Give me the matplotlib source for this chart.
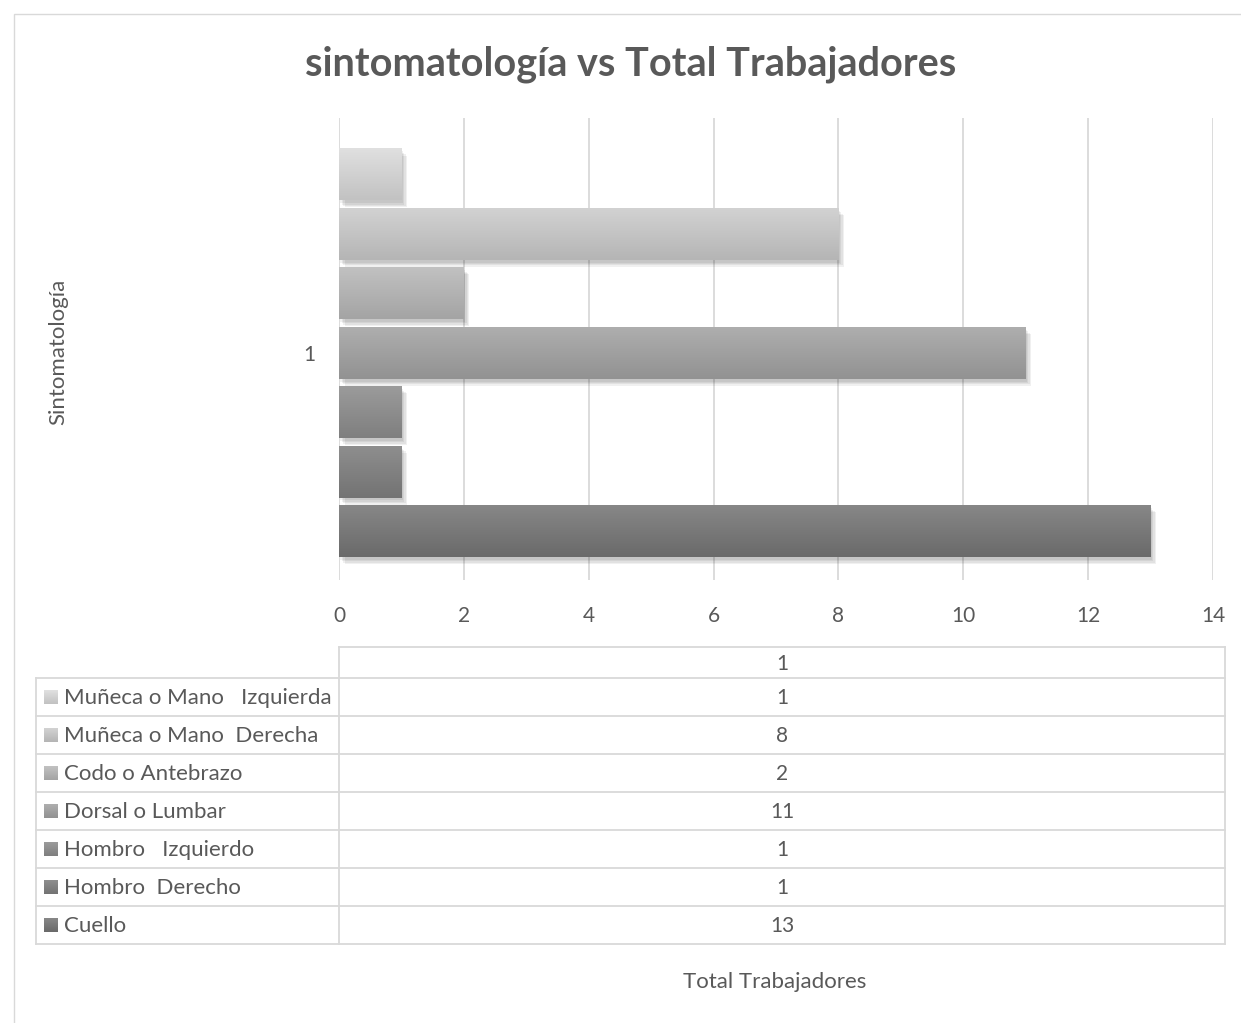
# sintomatologia vs total trabajadores - horizontal bars + data table
import numpy as np
import matplotlib
matplotlib.use("AGG")
import matplotlib.pyplot as plt
from matplotlib.patches import Rectangle
from matplotlib.lines import Line2D
import matplotlib.patheffects as pe

categorias = ['Cuello', 'Hombro  Derecho', 'Hombro   Izquierdo', 'Dorsal o Lumbar',
              'Codo o Antebrazo', 'Muñeca o Mano  Derecha', 'Muñeca o Mano   Izquierda']
valores = [13, 1, 1, 11, 2, 8, 1]
# gradient top / bottom colours per series
col_top = ['#878787', '#8e8e8e', '#9b9b9b', '#aeaeae', '#c1c1c1', '#d2d2d2', '#e0e0e0']
col_bot = ['#6a6a6a', '#737373', '#7f7f7f', '#929292', '#a4a4a4', '#b5b5b5', '#c2c2c2']
xticks = [0, 2, 4, 6, 8, 10, 12, 14]
grupo = '1'

txt = '#595959'
fs = 16
plt.rcParams['font.family'] = ['Lato', 'DejaVu Sans']

W, H = 1241, 1023
fig = plt.figure(figsize=(W / 100, H / 100), dpi=100)

# outer chart frame
fig.add_artist(Rectangle((14 / W, -0.1), 1.2, 1 - 14 / H + 0.1, transform=fig.transFigure,
                         fill=False, edgecolor='#d9d9d9', linewidth=1))

fig.text(631 / W, 1 - 64 / H, 'sintomatología vs Total Trabajadores', ha='center', va='center',
         fontsize=28.5, fontweight='bold', color=txt)

ax = fig.add_axes([339 / W, 1 - 580 / H, (1213 - 339) / W, (580 - 118) / H])
ypos = np.arange(len(valores))
bars = ax.barh(ypos, valores, height=0.87, color='none', edgecolor='none', zorder=3)
shadows = [pe.SimplePatchShadow(offset=(o, -o - 1), shadow_rgbFace='black', alpha=0.06)
           for o in (1, 2, 3, 4)]
for i, b in enumerate(bars):
    c0 = np.array(matplotlib.colors.to_rgb(col_top[i]))
    c1 = np.array(matplotlib.colors.to_rgb(col_bot[i]))
    t = np.linspace(0, 1, 64)[:, None]
    grad = (c0 * (1 - t) + c1 * t)[:, None, :]
    x0, y0, w, h = b.get_x(), b.get_y(), b.get_width(), b.get_height()
    # soft drop shadow
    sh = Rectangle((x0, y0), w, h, facecolor='none', edgecolor='none', zorder=2,
                   path_effects=shadows)
    ax.add_patch(sh)
    ax.imshow(grad, extent=[x0, x0 + w, y0, y0 + h], aspect='auto', zorder=3, origin='upper',
              interpolation='bilinear')
ax.set_xlim(0, 14)
ax.set_ylim(-0.82, 6.95)

ax.set_xticks(xticks)
ax.set_xticklabels([str(v) for v in xticks])
ax.set_yticks([3])
ax.set_yticklabels([grupo])
ax.tick_params(axis='x', length=0, pad=19, labelsize=15, labelcolor=txt)
ax.tick_params(axis='y', length=0, pad=17, labelsize=15, labelcolor=txt)
ax.grid(axis='x', color='#d9d9d9', linewidth=1.3, zorder=0)
ax.set_axisbelow(True)
for s in ax.spines.values():
    s.set_visible(False)
ax.set_facecolor('none')

fig.text(58 / W, 1 - 352 / H, 'Sintomatología', rotation=90, ha='center', va='center',
         fontsize=fs, color=txt)
fig.text(775 / W, 1 - 982 / H, 'Total Trabajadores', ha='center', va='center',
         fontsize=fs, color=txt)

# data table below the chart (pixel coordinates)
tab = fig.add_axes([0, 0, 1, 1])
tab.axis('off')
lc = '#d9d9d9'
xl, xm, xr = 36, 339, 1225
row_top = 647
head_h = 31
row_h = 38
rows = list(reversed(range(len(categorias))))
y_bot = row_top + head_h + row_h * len(rows)
tab.add_line(Line2D([xm, xr], [row_top, row_top], color=lc, lw=1.3))
tab.add_line(Line2D([xm, xm], [row_top, y_bot], color=lc, lw=1.3))
tab.add_line(Line2D([xr, xr], [row_top, y_bot], color=lc, lw=1.3))
tab.add_line(Line2D([xl, xl], [row_top + head_h, y_bot], color=lc, lw=1.3))
tab.text((xm + xr) / 2, row_top + head_h / 2 + 1, grupo, ha='center', va='center',
         fontsize=15, color=txt)
for k, i in enumerate(rows):
    yt = row_top + head_h + row_h * k
    tab.add_line(Line2D([xl, xr], [yt, yt], color=lc, lw=1.3))
    yc = yt + row_h / 2
    c0 = np.array(matplotlib.colors.to_rgb(col_top[i]))
    c1 = np.array(matplotlib.colors.to_rgb(col_bot[i]))
    t = np.linspace(0, 1, 16)[:, None]
    grad = (c0 * (1 - t) + c1 * t)[:, None, :]
    tab.imshow(grad, extent=[44, 58, yc + 7, yc - 7], aspect='auto', interpolation='bilinear')
    tab.text(64, yc + 1, categorias[i], ha='left', va='center', fontsize=fs, color=txt)
    tab.text((xm + xr) / 2, yc + 1, str(valores[i]), ha='center', va='center',
             fontsize=15, color=txt)
tab.add_line(Line2D([xl, xr], [y_bot, y_bot], color=lc, lw=1.3))
tab.set_xlim(0, W)
tab.set_ylim(H, 0)

plt.savefig('out.png', format='png', dpi=100)
